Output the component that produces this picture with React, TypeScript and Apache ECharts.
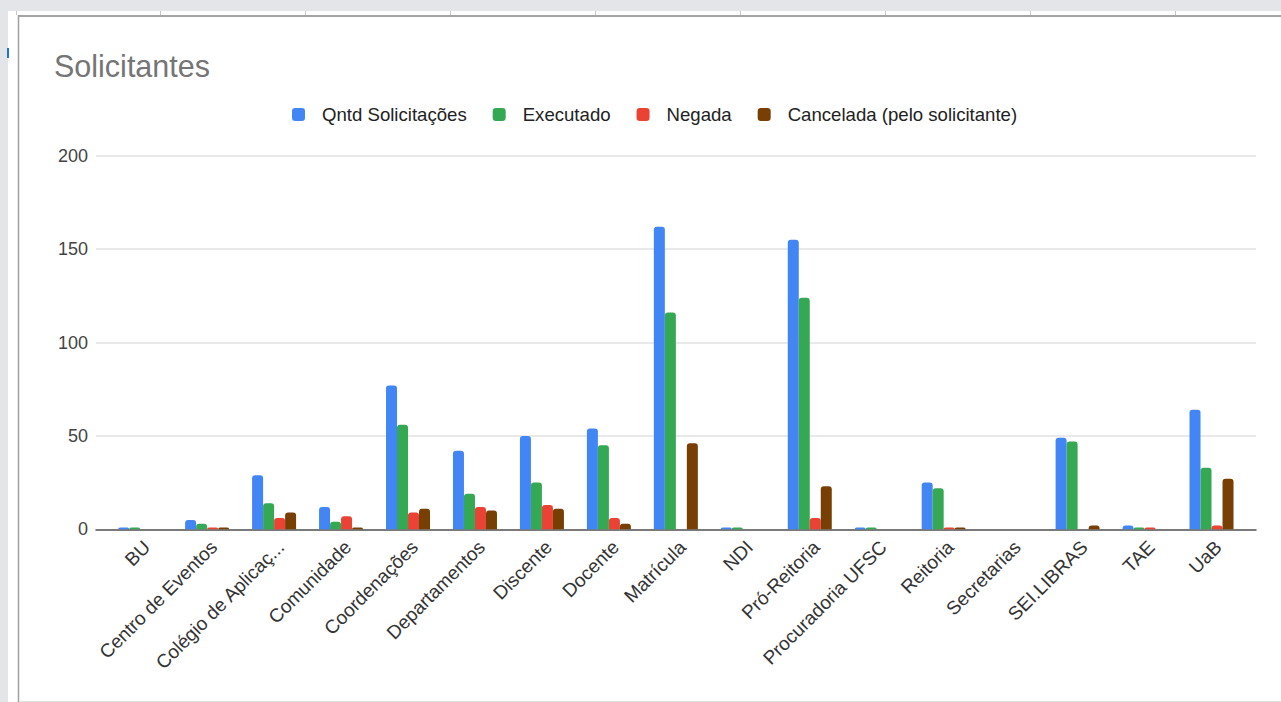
import React, { useEffect, useRef } from "react";
import * as echarts from "echarts";

// Requesting units and the outcome of their requests
const categories = [
  "BU",
  "Centro de Eventos",
  "Colégio de Aplicação",
  "Comunidade",
  "Coordenações",
  "Departamentos",
  "Discente",
  "Docente",
  "Matrícula",
  "NDI",
  "Pró-Reitoria",
  "Procuradoria UFSC",
  "Reitoria",
  "Secretarias",
  "SEI.LIBRAS",
  "TAE",
  "UaB",
];

const qntdSolicitacoes = [1, 5, 29, 12, 77, 42, 50, 54, 162, 1, 155, 1, 25, 0, 49, 2, 64];
const executado = [1, 3, 14, 4, 56, 19, 25, 45, 116, 1, 124, 1, 22, 0, 47, 1, 33];
const negada = [0, 1, 6, 7, 9, 12, 13, 6, 0, 0, 6, 0, 1, 0, 0, 1, 2];
const cancelada = [0, 1, 9, 1, 11, 10, 11, 3, 46, 0, 23, 0, 1, 0, 2, 0, 27];

const seriesNames = [
  "Qntd Solicitações",
  "Executado",
  "Negada",
  "Cancelada (pelo solicitante)",
];
const seriesColors = ["#4285f4", "#34a853", "#ea4335", "#783f04"];

const yTicks = { min: 0, max: 200, interval: 50 };

const FONT = "Arial, 'Liberation Sans', sans-serif";
const W = 1281;
const H = 702;

// Long labels are cut after 18 characters, as the axis does
const shortLabel = (s: string) => (s.length > 18 ? s.slice(0, 18) + "..." : s);

// Spreadsheet frame around the embedded chart
const columnEdges = [16, 160, 305, 450, 595, 740, 885, 1030, 1175];

export default function App() {
  const ref = useRef<HTMLDivElement>(null);

  useEffect(() => {
    if (!ref.current) return;
    const chart = echarts.init(ref.current, null, { renderer: "svg" });

    const values = [qntdSolicitacoes, executado, negada, cancelada];

    const frame: any[] = [
      { type: "rect", shape: { x: 0, y: 0, width: W, height: 11 }, style: { fill: "#e3e5e8" }, silent: true },
      { type: "rect", shape: { x: 0, y: 0, width: 8, height: H }, style: { fill: "#e3e5e8" }, silent: true },
      ...columnEdges.map((x) => ({
        type: "line",
        shape: { x1: x + 0.5, y1: 11, x2: x + 0.5, y2: 15 },
        style: { stroke: "#c6c8cb", lineWidth: 1 },
        silent: true,
      })),
      { type: "line", shape: { x1: 18, y1: 16, x2: W, y2: 16 }, style: { stroke: "#a4a4a4", lineWidth: 2 }, silent: true },
      { type: "line", shape: { x1: 18.5, y1: 15, x2: 18.5, y2: H }, style: { stroke: "#a0a0a0", lineWidth: 1.5 }, silent: true },
      { type: "line", shape: { x1: 19, y1: 701.5, x2: W, y2: 701.5 }, style: { stroke: "#e0e0e0", lineWidth: 1 }, silent: true },
      { type: "rect", shape: { x: 7, y: 48, width: 2, height: 10 }, style: { fill: "#1a73e8" }, silent: true },
    ];

    chart.setOption({
      animation: false,
      backgroundColor: "#ffffff",
      textStyle: { fontFamily: FONT },
      title: {
        text: "Solicitantes",
        left: 54,
        top: 50,
        padding: 0,
        textStyle: { fontFamily: FONT, fontSize: 30.5, fontWeight: "normal", color: "#757575" },
      },
      legend: {
        left: 292,
        top: 105,
        padding: 0,
        itemWidth: 13,
        itemHeight: 13,
        itemGap: 26,
        icon: "roundRect",
        data: seriesNames,
        textStyle: { fontFamily: FONT, fontSize: 18.6, color: "#222222", padding: [0, 0, 0, 12] },
      },
      grid: [
        { left: 106.7, right: W - 1245, top: 155.7, bottom: H - 529.3 },
        { left: 96, right: W - 1256, top: 155.7, bottom: H - 529.3 },
      ],
      xAxis: [
        {
          type: "category",
          gridIndex: 0,
          data: categories,
          axisLine: { show: false },
          axisTick: { show: false },
          axisLabel: {
            rotate: 45,
            interval: 0,
            margin: 8,
            verticalAlign: "top",
            fontFamily: FONT,
            fontSize: 19,
            color: "#333333",
            formatter: (v: string) => shortLabel(v),
          },
        },
        {
          type: "value",
          gridIndex: 1,
          min: 0,
          max: 1,
          axisLine: { show: true, onZero: false, lineStyle: { color: "#555555", width: 1.5 } },
          axisTick: { show: false },
          axisLabel: { show: false },
          splitLine: { show: false },
        },
      ],
      yAxis: [
        {
          type: "value",
          gridIndex: 0,
          ...yTicks,
          show: false,
          splitLine: { show: false },
        },
        {
          type: "value",
          gridIndex: 1,
          ...yTicks,
          axisLine: { show: false },
          axisTick: { show: false },
          axisLabel: { margin: 8, fontFamily: FONT, fontSize: 18, color: "#444444" },
          splitLine: { lineStyle: { color: "#e2e2e2", width: 1.5 } },
        },
      ],
      series: seriesNames.map((name, i) => ({
        name,
        type: "bar",
        xAxisIndex: 0,
        yAxisIndex: 0,
        data: values[i],
        barWidth: 11,
        barGap: "0%",
        z: 3,
        itemStyle: { color: seriesColors[i], borderRadius: [3, 3, 0, 0] },
      })),
      graphic: frame,
    });

    return () => chart.dispose();
  }, []);

  return (
    <div
      ref={ref}
      style={{ position: "fixed", left: 0, top: 0, width: W, height: H }}
    />
  );
}
